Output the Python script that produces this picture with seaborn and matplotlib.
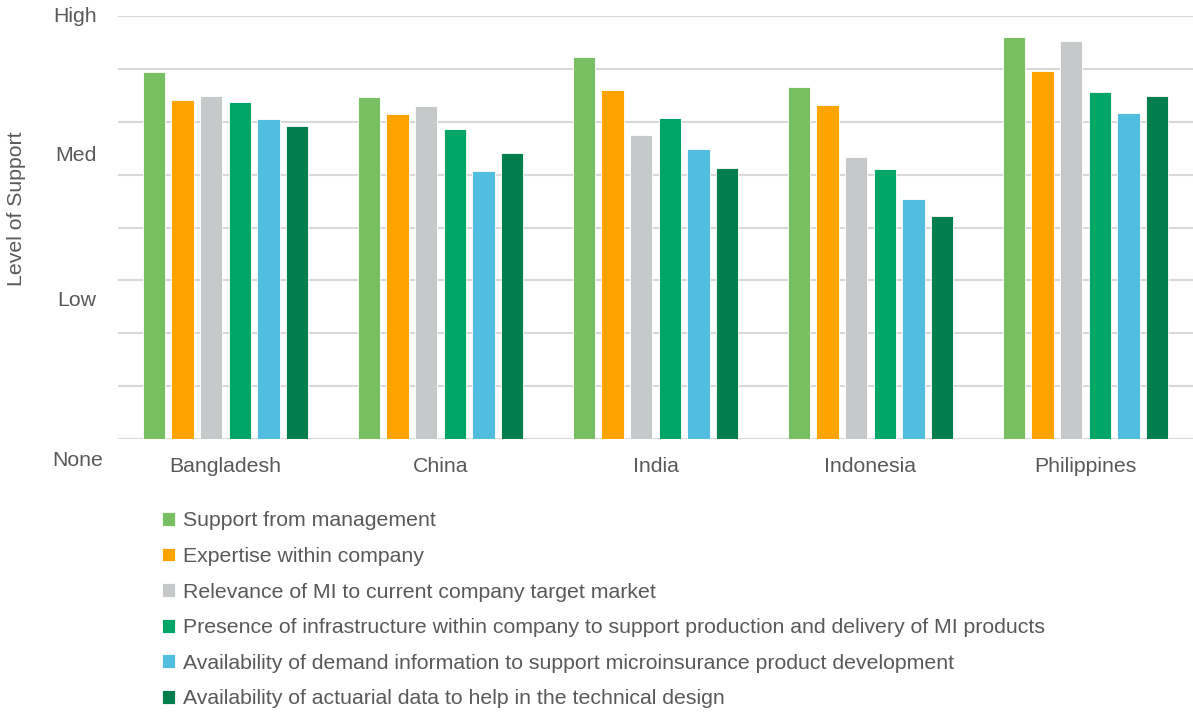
import matplotlib
matplotlib.use("Agg")
import matplotlib.pyplot as plt
import seaborn as sns
import pandas as pd

countries = ["Bangladesh", "China", "India", "Indonesia", "Philippines"]
factors = [
    "Support from management",
    "Expertise within company",
    "Relevance of MI to current company target market",
    "Presence of infrastructure within company to support production and delivery of MI products",
    "Availability of demand information to support microinsurance product development",
    "Availability of actuarial data to help in the technical design",
]
support_mgmt = [3.47, 3.23, 3.61, 3.33, 3.80]
expertise = [3.21, 3.07, 3.30, 3.16, 3.48]
relevance = [3.24, 3.15, 2.87, 2.67, 3.76]
infrastructure = [3.19, 2.93, 3.04, 2.55, 3.28]
demand_info = [3.03, 2.53, 2.74, 2.27, 3.08]
actuarial = [2.96, 2.70, 2.56, 2.11, 3.24]
level_labels = ["None", "Low", "Med", "High"]
level_positions = [-0.2, 1.31, 2.68, 4.0]

colors = ["#77BF61", "#FFA300", "#C6C9CA", "#00A665", "#51BDE1", "#007E4B"]
text_color = "#595959"

series = [support_mgmt, expertise, relevance, infrastructure, demand_info, actuarial]
rows = []
for factor, vals in zip(factors, series):
    for country, v in zip(countries, vals):
        rows.append({"Country": country, "Factor": factor, "Support": v})
df = pd.DataFrame(rows)

sns.set_theme(style="white")
plt.rcParams["font.family"] = ["Liberation Sans", "DejaVu Sans"]

fig = plt.figure(figsize=(11.93, 7.14), dpi=100)
ax = fig.add_axes([118 / 1193, 1 - 439 / 714, 1 - 118 / 1193, (439 - 16) / 714])

sns.barplot(data=df, x="Country", y="Support", hue="Factor", hue_order=factors,
            order=countries, palette=colors, saturation=1, width=0.8, gap=0.22,
            edgecolor="white", linewidth=0.6, ax=ax, zorder=3)

ax.set_ylim(0, 4)
ax.set_xlim(-0.5, 4.5)
ax.set_yticks([i * 0.5 for i in range(9)])
ax.set_yticklabels([])
ax.tick_params(axis="y", length=0)
ax.grid(axis="y", color="#D9D9D9", linewidth=1.5, zorder=0)
ax.set_axisbelow(True)
for s in ax.spines.values():
    s.set_visible(False)

ax.tick_params(axis="x", length=0, labelsize=15.3, labelcolor=text_color, pad=13)
ax.set_xlabel("")
ax.set_ylabel("")

for lab, pos in zip(level_labels, level_positions):
    xoff = -0.014 if lab == "None" else -0.02
    ax.text(xoff, pos, lab, transform=ax.get_yaxis_transform(), ha="right",
            va="center", fontsize=15.3, color=text_color, clip_on=False)

fig.text(17 / 1193, 1 - 209 / 714, "Level of Support", rotation=90, ha="center",
         va="center", fontsize=15.3, color=text_color)

handles, labels = ax.get_legend_handles_labels()
if ax.legend_:
    ax.legend_.remove()
fig.legend(handles, labels, loc="upper left", bbox_to_anchor=(153 / 1193, 1 - 503 / 714),
           frameon=False, fontsize=15.3, labelcolor=text_color, handlelength=0.62,
           handleheight=0.62, handletextpad=0.4, labelspacing=0.78, borderaxespad=0)

fig.savefig("out.png", dpi=100)
